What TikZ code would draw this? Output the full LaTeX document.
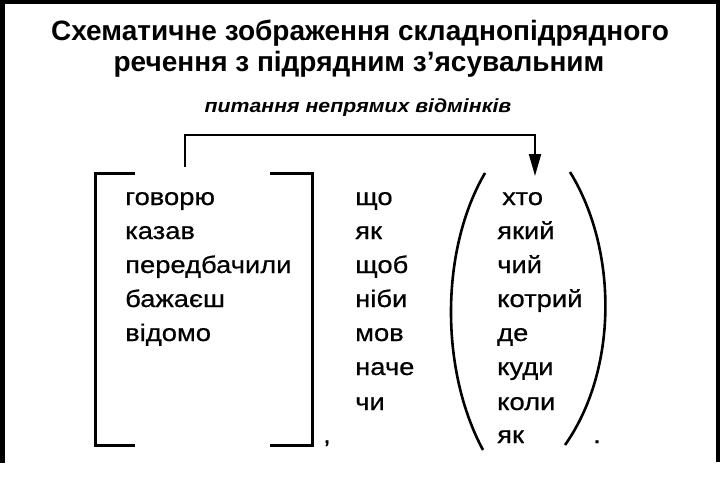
\documentclass[tikz,border=0pt]{standalone}
\usepackage{fontspec}
\setmainfont{Liberation Sans}
\newfontfamily\bodyfont[FakeStretch=1.14,FakeBold=0.6]{Liberation Sans}
\newfontfamily\subfont[FakeStretch=1.12]{Liberation Sans Bold Italic}
\usetikzlibrary{arrows.meta}
\begin{document}
\begin{tikzpicture}[x=1pt,y=-1pt,
  word/.style={anchor=base west,inner sep=0pt,font=\bodyfont\fontsize{24}{28}\selectfont},
  titletext/.style={inner sep=0pt,font=\fontsize{28}{32}\selectfont\bfseries},
  brk/.style={line width=3pt},
  par/.style={line width=2.6pt},
  conn/.style={line width=2pt}]
\useasboundingbox (0,0) rectangle (720,479);
\fill[white] (0,0) rectangle (720,479);
\fill[black] (0,0) rectangle (720,4);
\fill[black] (0,0) rectangle (5,463);
\fill[black] (716,0) rectangle (720,462);
% title
\node[titletext] (t1) at (360,33) {Схематичне зображення складнопідрядного};
\node[titletext] (t2) at (359,64) {речення з підрядним з’ясувальним};
\node[inner sep=0pt,font=\subfont\fontsize{19}{22}\selectfont] (sub) at (358,108) {питання непрямих відмінків};
% left column
\node[word] (l1) at (125,205) {говорю};
\node[word] (l2) at (125,239) {казав};
\node[word] (l3) at (125,273) {передбачили};
\node[word] (l4) at (125,307) {бажаєш};
\node[word] (l5) at (125,341) {відомо};
% conjunctions
\node[word] (c1) at (355,205) {що};
\node[word] (c2) at (355,239) {як};
\node[word] (c3) at (355,273) {щоб};
\node[word] (c4) at (355,307) {ніби};
\node[word] (c5) at (355,341) {мов};
\node[word] (c6) at (355,375) {наче};
\node[word] (c7) at (355,410) {чи};
% pronouns
\node[word] (r1) at (502,205) {хто};
\node[word] (r2) at (497,239) {який};
\node[word] (r3) at (497,273) {чий};
\node[word] (r4) at (497,307) {котрий};
\node[word] (r5) at (497,341) {де};
\node[word] (r6) at (497,375) {куди};
\node[word] (r7) at (497,410) {коли};
\node[word] (r8) at (497,443) {як};
% brackets
\draw[brk] (135,173) -- (95,173) -- (95,445) -- (135,445);
\draw[brk] (270,173) -- (312,173) -- (312,445) -- (270,445);
\node[word] (comma) at (323,443) {,};
\draw[par] (485,173) .. controls (440,250) and (440,370) .. (483,450);
\draw[par] (570,172) .. controls (618,250) and (618,370) .. (565,445);
\node[word] (dot) at (593,443) {.};
% connector
\coordinate (a0) at (185,167);
\coordinate (a1) at (185,135);
\coordinate (a2) at (535,135);
\coordinate (a3) at (535,176);
\draw[conn,-{Triangle[length=22pt,width=12pt]}] (a0) -- (a1) -- (a2) -- (a3);
\end{tikzpicture}
\end{document}
